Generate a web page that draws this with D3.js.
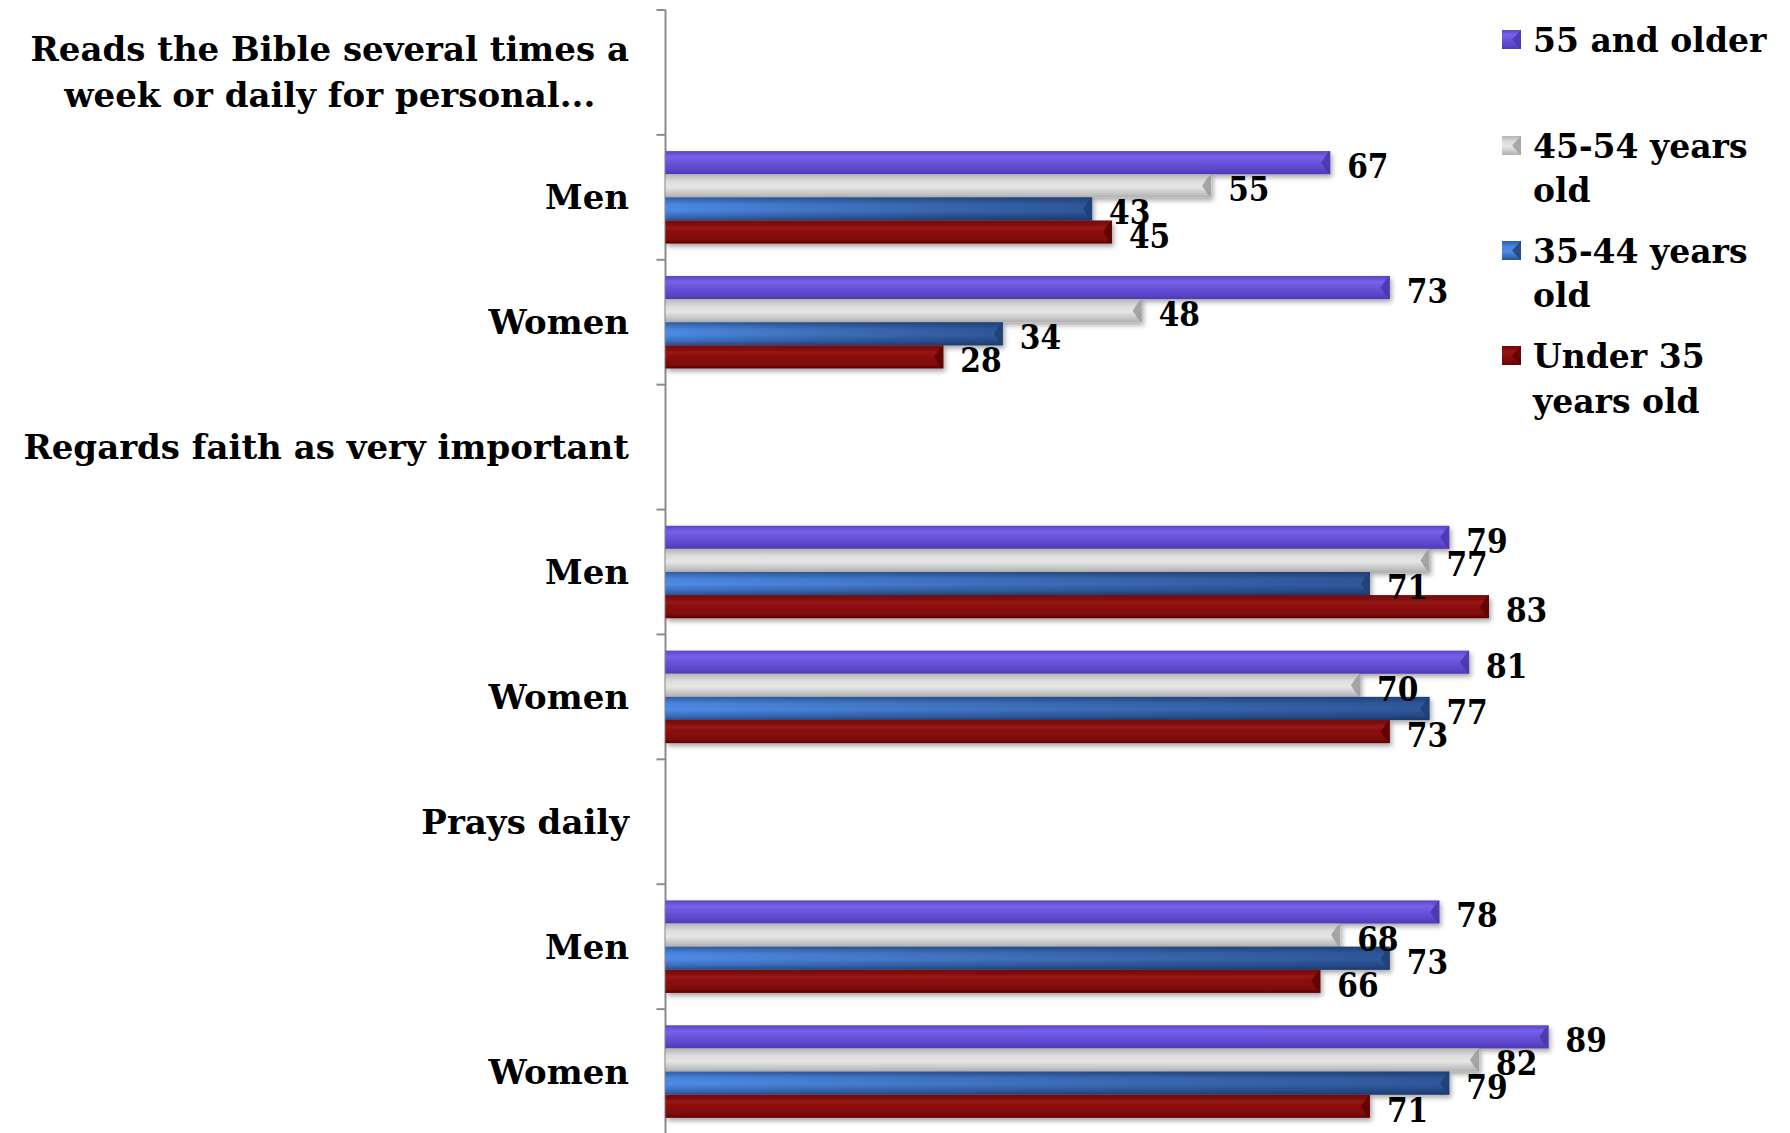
<!DOCTYPE html>
<html><head><meta charset="utf-8">
<script src="https://cdn.jsdelivr.net/npm/d3@7/dist/d3.min.js"></script>
<style>
html,body{margin:0;padding:0;background:#fff;}
svg{display:block;}
</style></head>
<body>
<svg id="chart" width="1790" height="1133"></svg>
<script>
// ---- data ----
const categories = [
  "Reads the Bible several times a week or daily for personal...",
  "Men", "Women",
  "Regards faith as very important",
  "Men", "Women",
  "Prays daily",
  "Men", "Women"
];
const categoryLines = [
  ["Reads the Bible several times a", "week or daily for personal..."],
  ["Men"], ["Women"],
  ["Regards faith as very important"],
  ["Men"], ["Women"],
  ["Prays daily"],
  ["Men"], ["Women"]
];
const seriesNames = ["55 and older", "45-54 years old", "35-44 years old", "Under 35 years old"];
const legendLines = [["55 and older"], ["45-54 years", "old"], ["35-44 years", "old"], ["Under 35", "years old"]];
const s55plus  = [null, 67, 73, null, 79, 81, null, 78, 89];
const s45to54  = [null, 55, 48, null, 77, 70, null, 68, 82];
const s35to44  = [null, 43, 34, null, 71, 77, null, 73, 79];
const sUnder35 = [null, 45, 28, null, 83, 73, null, 66, 71];
const seriesValues = [s55plus, s45to54, s35to44, sUnder35];

// ---- layout ----
const svg = d3.select("#chart");
const axisX = 665.5, plotTop = 10, plotBottom = 1134;
const x = d3.scaleLinear().domain([0, 100]).range([axisX, 1657.6]);
const y = d3.scaleBand().domain(d3.range(categories.length)).range([plotTop, plotBottom]).padding(0);
const ys = d3.scaleBand().domain(d3.range(seriesNames.length)).range([0, y.bandwidth()]).paddingInner(0).paddingOuter(0.7);

const defs = svg.append("defs");
const palettes = [
  {id:"g0", stops:[["0%","#5a44c8"],["25%","#7662e8"],["50%","#6a53dc"],["80%","#5c45c9"],["100%","#5039b4"]], cap:"#4a36a8"},
  {id:"g1", stops:[["0%","#b4b4b4"],["30%","#dcdcdc"],["55%","#e6e6e6"],["80%","#c9c9c9"],["100%","#b0b0b0"]], cap:"#9a9a9a"},
  {id:"g2", stops:[["0%","#2f5da3"],["30%","#4a86df"],["55%","#4f8ae6"],["80%","#3a6fc0"],["100%","#2a5090"]], cap:"#203f73"},
  {id:"g3", stops:[["0%","#6e0606"],["30%","#951515"],["55%","#8a0c0c"],["80%","#7c0808"],["100%","#660505"]], cap:"#5a0303"}
];
palettes.forEach(p => {
  const g = defs.append("linearGradient").attr("id", p.id).attr("x1",0).attr("y1",0).attr("x2",0).attr("y2",1);
  p.stops.forEach(s => g.append("stop").attr("offset", s[0]).attr("stop-color", s[1]));
});
const hb = defs.append("linearGradient").attr("id","hblue").attr("x1",0).attr("y1",0).attr("x2",1).attr("y2",0);
hb.append("stop").attr("offset","0%").attr("stop-color","#000").attr("stop-opacity",0.0);
hb.append("stop").attr("offset","100%").attr("stop-color","#0a1a40").attr("stop-opacity",0.45);
const f = defs.append("filter").attr("id","shadow").attr("x","-5%").attr("y","-30%").attr("width","110%").attr("height","180%");
f.append("feDropShadow").attr("dx",2).attr("dy",3).attr("stdDeviation",2.5).attr("flood-color","#000").attr("flood-opacity",0.35);

// axis line + ticks
const axisG = svg.append("g").attr("class","axis");
axisG.append("line").attr("x1",axisX).attr("x2",axisX).attr("y1",plotTop).attr("y2",plotBottom)
  .attr("stroke","#8c8c8c").attr("stroke-width",2);
const tickYs = d3.range(categories.length + 1).map(i => i < categories.length ? y(i) : y(categories.length-1) + y.bandwidth());
axisG.selectAll("line.tick").data(tickYs).join("line").attr("class","tick")
  .attr("x1",axisX-9).attr("x2",axisX).attr("y1",d=>d).attr("y2",d=>d)
  .attr("stroke","#8c8c8c").attr("stroke-width",2);

// bars
const rows = [];
categories.forEach((c, ci) => {
  seriesValues.forEach((vals, si) => {
    if (vals[ci] != null) rows.push({ci, si, v: vals[ci]});
  });
});
const barG = svg.append("g");
const bars = barG.selectAll("g.bar").data(rows).join("g").attr("class","bar");
bars.append("rect")
  .attr("x", x(0)).attr("y", d => y(d.ci) + ys(d.si))
  .attr("width", d => x(d.v) - x(0)).attr("height", ys.bandwidth())
  .attr("fill", d => `url(#${palettes[d.si].id})`).attr("filter","url(#shadow)");
bars.filter(d => d.si === 2).append("rect")
  .attr("x", x(0)).attr("y", d => y(d.ci) + ys(d.si))
  .attr("width", d => x(d.v) - x(0)).attr("height", ys.bandwidth())
  .attr("fill","url(#hblue)");
bars.append("path")
  .attr("d", d => {
    const x1 = x(d.v), y0 = y(d.ci) + ys(d.si), h = ys.bandwidth();
    return `M${x1},${y0} L${x1},${y0+h} L${x1-4},${y0+h-4} L${x1-9},${y0+h/2} L${x1-4},${y0+4} Z`;
  })
  .attr("fill", d => palettes[d.si].cap).attr("opacity",0.85);

// value labels
svg.append("g").selectAll("text").data(rows).join("text")
  .attr("x", d => x(d.v) + 17)
  .attr("y", d => y(d.ci) + ys(d.si) + ys.bandwidth()/2 + 4)
  .attr("dominant-baseline","central")
  .attr("font-family","'DejaVu Serif Condensed','DejaVu Serif',serif")
  .attr("font-weight","bold").attr("font-size",33).attr("fill","#000")
  .text(d => d.v);

// category labels
const catG = svg.append("g");
categoryLines.forEach((lines, ci) => {
  const cy = y(ci) + y.bandwidth()/2;
  const lh = 46;
  const g = catG.append("g");
  const texts = g.selectAll("text").data(lines).join("text")
    .attr("y", (d,i) => cy + (i - (lines.length-1)/2) * lh)
    .attr("dominant-baseline","central")
    .attr("font-family","'DejaVu Serif',serif")
    .attr("font-weight","bold").attr("font-size",34).attr("fill","#000")
    .text(d => d);
  const widths = texts.nodes().map(n => n.getComputedTextLength());
  const maxW = d3.max(widths);
  texts.attr("text-anchor","middle").attr("x", 629 - maxW/2);
});

// legend
const legendCenters = [[40],[146,190],[251,295],[356,401]];
const legG = svg.append("g");
legendLines.forEach((lines, si) => {
  const c = legendCenters[si];
  legG.append("rect").attr("x",1502).attr("y",c[0]-10).attr("width",19).attr("height",19)
    .attr("fill", `url(#${palettes[si].id})`);
  legG.append("path")
    .attr("d", `M1521,${c[0]-10} L1521,${c[0]+9} L1512,${c[0]-0.5} Z`)
    .attr("fill", palettes[si].cap).attr("opacity",0.8);
  lines.forEach((t, li) => {
    legG.append("text").attr("x",1533).attr("y",c[li])
      .attr("dominant-baseline","central")
      .attr("font-family","'DejaVu Serif',serif").attr("font-weight","bold")
      .attr("font-size",33).attr("fill","#000").text(t);
  });
});
</script>
</body></html>
